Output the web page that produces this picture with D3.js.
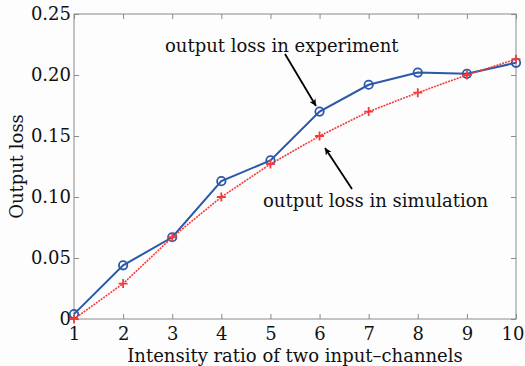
<!doctype html>
<html>
<head>
  <meta charset="utf-8">
  <script src="https://cdnjs.cloudflare.com/ajax/libs/d3/7.8.5/d3.min.js"></script>
  <style>
    body { margin: 0; background: #fdfdfd; }
    svg { display: block; font-family: "DejaVu Serif", serif; }
  </style>
</head>
<body>
  <svg width="525" height="366"></svg>
  <script>
var ratios = [1, 2, 3, 4, 5, 6, 7, 8, 9, 10];
var experiment = [0.004, 0.044, 0.067, 0.113, 0.130, 0.170, 0.192, 0.202, 0.201, 0.210];
var simulation = [0.000, 0.029, 0.067, 0.100, 0.127, 0.150, 0.170, 0.1855, 0.200, 0.213];
var yTicks = [0, 0.05, 0.10, 0.15, 0.20, 0.25];
var yTickLabels = ["0", "0.05", "0.10", "0.15", "0.20", "0.25"];

var svg = d3.select("svg");
var plotL = 74, plotR = 516, plotT = 14, plotB = 319;
var axisColor = "#8a8a8a";
var fontSize = "18px";

var x = d3.scaleLinear().domain([1, 10]).range([plotL, plotR]);
var y = d3.scaleLinear().domain([0, 0.25]).range([plotB, plotT]);

// arrowhead
svg.append("defs").append("marker")
  .attr("id", "head")
  .attr("viewBox", "0 0 10 10")
  .attr("refX", 10).attr("refY", 5)
  .attr("markerWidth", 7).attr("markerHeight", 7)
  .attr("markerUnits", "userSpaceOnUse")
  .attr("orient", "auto")
  .append("path").attr("d", "M0,0 L10,5 L0,10 L3,5 Z").attr("fill", "#000");

// frame with inward ticks on all sides
svg.append("rect")
  .attr("x", plotL).attr("y", plotT)
  .attr("width", plotR - plotL).attr("height", plotB - plotT)
  .attr("fill", "none").attr("stroke", axisColor).attr("stroke-width", 1);

var xBottom = svg.append("g").attr("transform", "translate(0," + plotB + ")")
  .call(d3.axisBottom(x).tickValues(ratios).tickSize(-5).tickPadding(7).tickFormat(d3.format("d")));
var xTop = svg.append("g").attr("transform", "translate(0," + plotT + ")")
  .call(d3.axisTop(x).tickValues(ratios).tickSize(-5).tickFormat(""));
var yLeft = svg.append("g").attr("transform", "translate(" + plotL + ",0)")
  .call(d3.axisLeft(y).tickValues(yTicks).tickSize(-5).tickPadding(3)
    .tickFormat(function(d, i) { return yTickLabels[i]; }));
var yRight = svg.append("g").attr("transform", "translate(" + plotR + ",0)")
  .call(d3.axisRight(y).tickValues(yTicks).tickSize(-5).tickFormat(""));

[xBottom, xTop, yLeft, yRight].forEach(function(g) {
  g.select(".domain").remove();
  g.selectAll(".tick line").attr("stroke", axisColor);
  g.selectAll(".tick text").attr("fill", "#111")
    .style("font-family", "DejaVu Serif, serif").style("font-size", fontSize);
});
xBottom.selectAll(".tick text").attr("dy", "0.8em");
// last label sits against the page edge
xBottom.selectAll(".tick text").filter(function(d) { return d === 10; })
  .attr("text-anchor", "end").attr("x", 8);

// lines
var line = d3.line().x(function(d, i) { return x(ratios[i]); }).y(function(d) { return y(d); });

svg.append("path").datum(experiment)
  .attr("d", line).attr("fill", "none")
  .attr("stroke", "#2b58a8").attr("stroke-width", 2);

svg.selectAll(".circ").data(experiment).enter().append("circle")
  .attr("cx", function(d, i) { return x(ratios[i]); })
  .attr("cy", function(d) { return y(d); })
  .attr("r", 4.2)
  .attr("fill", "none").attr("stroke", "#2b58a8").attr("stroke-width", 1.8);

svg.append("path").datum(simulation)
  .attr("d", line).attr("fill", "none")
  .attr("stroke", "#f23a3a").attr("stroke-width", 1.6)
  .attr("stroke-dasharray", "2,1");

svg.selectAll(".plus").data(simulation).enter().append("path")
  .attr("d", function(d, i) {
    var cx = x(ratios[i]), cy = y(d), s = 4.5;
    return "M" + (cx - s) + "," + cy + "H" + (cx + s) + "M" + cx + "," + (cy - s) + "V" + (cy + s);
  })
  .attr("stroke", "#f23a3a").attr("stroke-width", 1.8);

// annotations
svg.append("text").attr("x", 165).attr("y", 52)
  .style("font-size", fontSize).attr("fill", "#111")
  .text("output loss in experiment");
svg.append("line")
  .attr("x1", 285).attr("y1", 54).attr("x2", 316).attr("y2", 106)
  .attr("stroke", "#000").attr("stroke-width", 1.8).attr("marker-end", "url(#head)");

svg.append("text").attr("x", 263).attr("y", 207)
  .style("font-size", fontSize).attr("fill", "#111")
  .text("output loss in simulation");
svg.append("line")
  .attr("x1", 352).attr("y1", 189).attr("x2", 325).attr("y2", 148)
  .attr("stroke", "#000").attr("stroke-width", 1.8).attr("marker-end", "url(#head)");

// axis titles
svg.append("text")
  .attr("x", (plotL + plotR) / 2).attr("y", 362)
  .attr("text-anchor", "middle")
  .style("font-size", fontSize).attr("fill", "#111")
  .text("Intensity ratio of two input\u2013channels");

svg.append("text")
  .attr("transform", "translate(23," + ((plotT + plotB) / 2) + ") rotate(-90)")
  .attr("text-anchor", "middle")
  .style("font-size", fontSize).attr("fill", "#111")
  .text("Output loss");
  </script>
</body>
</html>
